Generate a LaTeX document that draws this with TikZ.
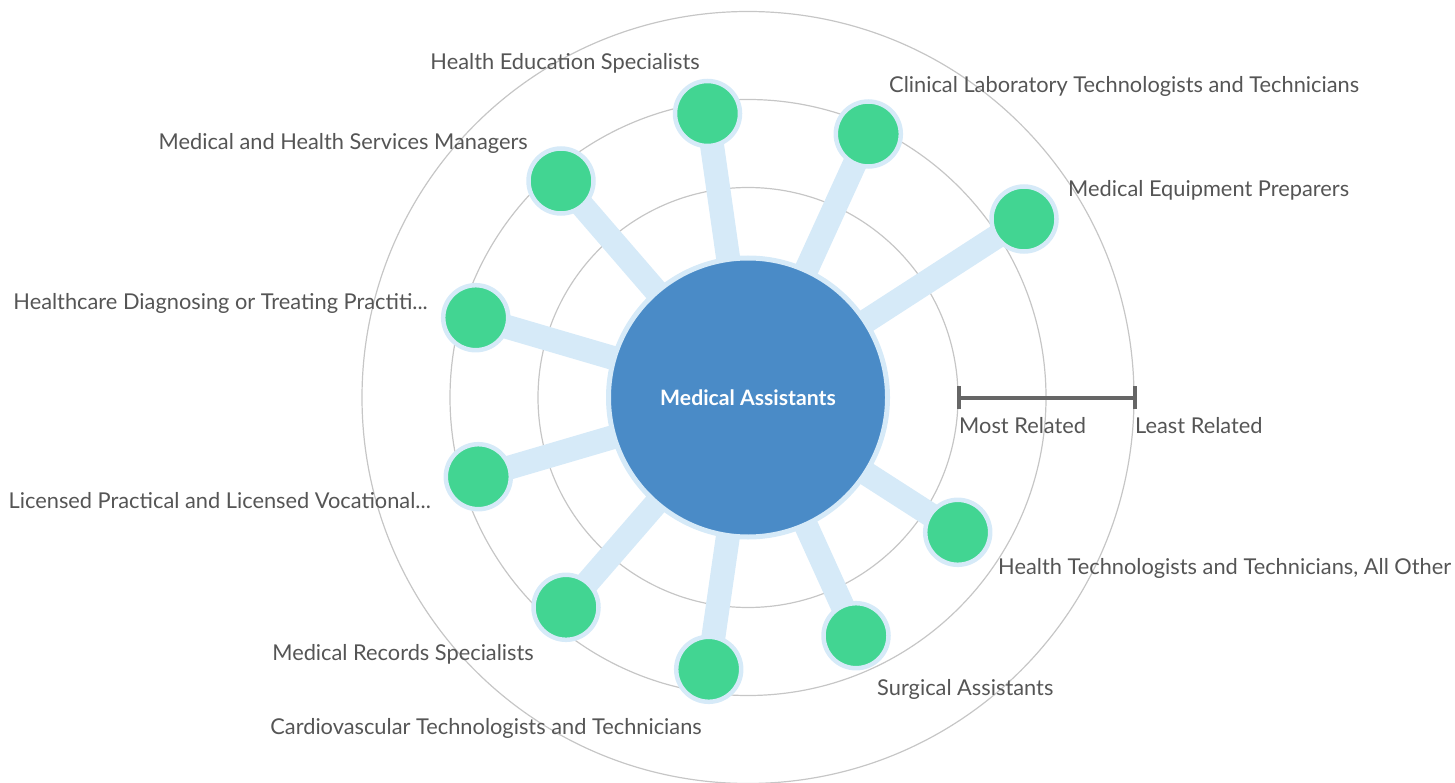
\documentclass[tikz,border=0pt]{standalone}
\usepackage{fontspec}
\setmainfont{Lato}
\usetikzlibrary{backgrounds}

\definecolor{jobgreen}{HTML}{42D592}
\definecolor{halo}{HTML}{D6EAF8}
\definecolor{hubblue}{HTML}{4A8BC7}
\definecolor{ringgray}{HTML}{C6C6C6}
\definecolor{textgray}{HTML}{555555}
\definecolor{bargray}{HTML}{666666}

\begin{document}
\begin{tikzpicture}[x=1pt, y=-1pt,
        job/.style={circle, fill=jobgreen, draw=halo, line width=4.5pt, minimum size=65pt, inner sep=0pt},
        hub/.style={circle, fill=hubblue, draw=halo, line width=5pt, minimum size=279pt, inner sep=0pt,
            text=white, font=\bfseries\fontsize{21.2}{25}\selectfont},
        jobtext/.style={text=textgray, font=\fontsize{21.8}{26}\selectfont, inner sep=0pt},
        ring/.style={draw=ringgray, line width=1.2pt},
        link/.style={draw=halo, line width=24pt},
        scalebar/.style={draw=bargray, line width=4pt}]

    \useasboundingbox (0,0) rectangle (1455,783);

    \node[hub] (ma) at (748,397.5) {Medical Assistants};

    \node[job] (hes)   at (707.5,113.5) {};
    \node[job] (cltt)  at (868.3,134) {};
    \node[job] (mep)   at (1024,219) {};
    \node[job] (httao) at (957.7,532.3) {};
    \node[job] (sa)    at (856,635.7) {};
    \node[job] (ctt)   at (708.7,669.3) {};
    \node[job] (mrs)   at (566,607.3) {};
    \node[job] (lplv)  at (478.3,476.7) {};
    \node[job] (hdtp)  at (475.7,317.7) {};
    \node[job] (mhsm)  at (561,181) {};

    \begin{scope}[on background layer]
        \foreach \r in {210,298,386}
            \draw[ring] (ma.center) circle[radius=\r];
        \foreach \j in {hes,cltt,mep,httao,sa,ctt,mrs,lplv,hdtp,mhsm}
            \draw[link] (ma.center) -- (\j.center);
    \end{scope}

    \node[jobtext, anchor=base east] (hes-t)   at (700,70)  {Health Education Specialists};
    \node[jobtext, anchor=base east] (mhsm-t)  at (528,150) {Medical and Health Services Managers};
    \node[jobtext, anchor=base west] (cltt-t)  at (889,93)  {Clinical Laboratory Technologists and Technicians};
    \node[jobtext, anchor=base west] (mep-t)   at (1068,197) {Medical Equipment Preparers};
    \node[jobtext, anchor=base east] (hdtp-t)  at (428,309) {Healthcare Diagnosing or Treating Practiti...};
    \node[jobtext, anchor=base east] (lplv-t)  at (431,508) {Licensed Practical and Licensed Vocational...};
    \node[jobtext, anchor=base west] (httao-t) at (998,574) {Health Technologists and Technicians, All Other};
    \node[jobtext, anchor=base east] (mrs-t)   at (534,660) {Medical Records Specialists};
    \node[jobtext, anchor=base west] (sa-t)    at (877,695) {Surgical Assistants};
    \node[jobtext, anchor=base east] (ctt-t)   at (702,734) {Cardiovascular Technologists and Technicians};

    % scale
    \coordinate (most) at (958.5,397.5);
    \coordinate (least) at (1134.5,397.5);
    \draw[scalebar] (most) -- (least);
    \draw[scalebar] ([yshift=11.5pt]most) -- ([yshift=-11.5pt]most);
    \draw[scalebar] ([yshift=11.5pt]least) -- ([yshift=-11.5pt]least);
    \node[jobtext, anchor=base west] (most-t)  at (959,433)  {Most Related};
    \node[jobtext, anchor=base west] (least-t) at (1135,433) {Least Related};
\end{tikzpicture}
\end{document}
